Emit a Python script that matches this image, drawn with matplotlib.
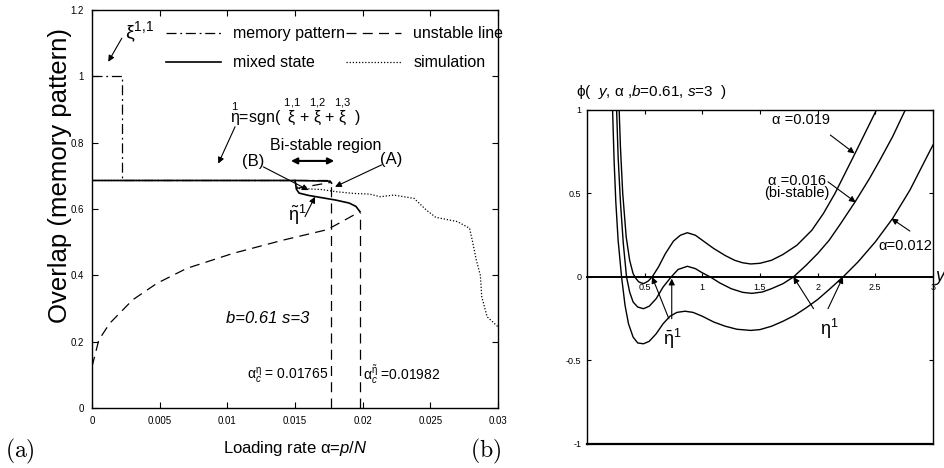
import matplotlib.pyplot as plt
from matplotlib import font_manager
from matplotlib.lines import Line2D

names = {f.name for f in font_manager.fontManager.ttflist}
narrow = 'Liberation Sans Narrow' if 'Liberation Sans Narrow' in names else 'Liberation Sans'
plt.rcParams['font.family'] = [narrow, 'DejaVu Sans']
plt.rcParams['mathtext.fontset'] = 'custom'
plt.rcParams['mathtext.rm'] = narrow
plt.rcParams['mathtext.it'] = narrow + ':italic'
plt.rcParams['mathtext.sf'] = narrow

# (a) overlap vs loading rate
xi_alpha = [0.0, 0.0022, 0.0022, 0.0176]
xi_overlap = [1.0, 1.0, 0.686, 0.686]

mixed_alpha = [0.0, 0.0150, 0.0176, 0.0177]
mixed_overlap = [0.686, 0.686, 0.684, 0.678]

tilde_alpha = [0.0150, 0.01505, 0.0151, 0.0153, 0.0160, 0.0170, 0.0180, 0.0190, 0.0195, 0.0198]
tilde_overlap = [0.686, 0.675, 0.660, 0.648, 0.641, 0.634, 0.627, 0.618, 0.608, 0.592]

unstable_alpha = [0.0, 0.0005, 0.0013, 0.003, 0.0048, 0.007, 0.0104, 0.0141, 0.0173, 0.0178, 0.0198]
unstable_overlap = [0.125, 0.205, 0.255, 0.326, 0.376, 0.421, 0.466, 0.506, 0.537, 0.547, 0.592]

mid_alpha = [0.0151, 0.0176]
mid_overlap = [0.662, 0.680]

sim_alpha = [0.0, 0.0150, 0.0152, 0.0169, 0.0181, 0.0193, 0.0205, 0.0213, 0.0223, 0.0238,
             0.0247, 0.0254, 0.0270, 0.0279, 0.0281, 0.0282, 0.0284, 0.0287, 0.0288, 0.0292, 0.0300]
sim_overlap = [0.686, 0.686, 0.662, 0.659, 0.652, 0.647, 0.645, 0.637, 0.642, 0.632,
               0.597, 0.575, 0.562, 0.542, 0.506, 0.486, 0.446, 0.400, 0.336, 0.275, 0.245]

alpha_c_eta = 0.01765
alpha_c_tilde = 0.01982
top_eta = 0.678
top_tilde = 0.592

# (b) phi(y) for three loading rates
y_012 = [0.222, 0.235, 0.25, 0.27, 0.30, 0.33, 0.36, 0.40, 0.44, 0.49, 0.54, 0.60, 0.66, 0.72,
         0.78, 0.85, 0.92, 1.0, 1.1, 1.2, 1.3, 1.42, 1.5, 1.6, 1.7, 1.8, 1.9, 2.0, 2.1, 2.22,
         2.35, 2.5, 2.65, 2.8, 2.97, 3.0]
phi_012 = [1.0, 0.70, 0.45, 0.22, 0.0, -0.17, -0.28, -0.36, -0.395, -0.40, -0.385, -0.34, -0.28,
           -0.235, -0.212, -0.205, -0.212, -0.235, -0.27, -0.295, -0.313, -0.32, -0.315, -0.295,
           -0.265, -0.23, -0.185, -0.135, -0.075, 0.0, 0.09, 0.21, 0.35, 0.52, 0.75, 0.79]

y_016 = [0.257, 0.27, 0.29, 0.315, 0.343, 0.37, 0.40, 0.44, 0.49, 0.54, 0.60, 0.66, 0.73, 0.79,
         0.87, 0.94, 1.0, 1.07, 1.15, 1.25, 1.35, 1.43, 1.52, 1.6, 1.7, 1.79, 1.9, 2.0, 2.1, 2.2,
         2.325, 2.45, 2.54, 2.65, 2.76]
phi_016 = [1.0, 0.72, 0.45, 0.2, 0.0, -0.09, -0.15, -0.18, -0.19, -0.175, -0.13, -0.06, 0.0,
           0.045, 0.064, 0.05, 0.025, 0.0, -0.035, -0.07, -0.092, -0.098, -0.09, -0.07, -0.04,
           0.0, 0.07, 0.14, 0.22, 0.32, 0.45, 0.59, 0.70, 0.84, 1.0]

y_019 = [0.279, 0.29, 0.31, 0.34, 0.37, 0.40, 0.42, 0.45, 0.49, 0.53, 0.565, 0.62, 0.68, 0.75,
         0.81, 0.87, 0.94, 1.0, 1.1, 1.2, 1.28, 1.35, 1.42, 1.5, 1.6, 1.7, 1.82, 1.95, 2.05,
         2.15, 2.23, 2.31, 2.41, 2.51]
phi_019 = [1.0, 0.78, 0.50, 0.24, 0.10, 0.02, -0.005, -0.03, -0.04, -0.025, 0.0, 0.06, 0.14,
           0.215, 0.25, 0.265, 0.25, 0.22, 0.17, 0.128, 0.10, 0.085, 0.078, 0.082, 0.10, 0.135,
           0.19, 0.28, 0.38, 0.50, 0.61, 0.72, 0.86, 1.0]

dashdot = (0, (8, 3, 1.5, 3))
dashed = (0, (8, 5))
dotted = (0, (1, 1.5))
lw = 0.9
arrow = dict(arrowstyle='-|>', lw=0.8, color='k', mutation_scale=9, shrinkA=0, shrinkB=0)

fig = plt.figure(figsize=(9.44, 4.68), dpi=100)

ax = fig.add_axes([0.0975, 0.1282, 0.43, 0.8504])
ax.plot(xi_alpha, xi_overlap, color='k', lw=lw, linestyle=dashdot)
ax.plot(mixed_alpha, mixed_overlap, color='k', lw=1.2)
ax.plot(tilde_alpha, tilde_overlap, color='k', lw=1.2)
ax.plot(unstable_alpha, unstable_overlap, color='k', lw=lw, linestyle=dashed)
ax.plot(mid_alpha, mid_overlap, color='k', lw=lw, linestyle=dashed)
ax.plot(sim_alpha, sim_overlap, color='k', lw=lw, linestyle=dotted)
ax.plot([alpha_c_eta, alpha_c_eta], [0, top_eta], color='k', lw=lw, linestyle=dashed)
ax.plot([alpha_c_tilde, alpha_c_tilde], [0, top_tilde], color='k', lw=lw, linestyle=dashed)

ax.set_xlim(0, 0.03)
ax.set_ylim(0, 1.2)
ax.set_xticks([0, 0.005, 0.01, 0.015, 0.02, 0.025, 0.03])
ax.set_xticklabels(['0', '0.005', '0.01', '0.015', '0.02', '0.025', '0.03'])
ax.set_yticks([0, 0.2, 0.4, 0.6, 0.8, 1.0, 1.2])
ax.set_yticklabels(['0', '0.2', '0.4', '0.6', '0.8', '1', '1.2'])
ax.tick_params(direction='in', length=4, width=0.8, labelsize=7, top=True, right=True, pad=6)
for s in ax.spines.values():
    s.set_linewidth(1.0)
ax.set_xlabel(r'Loading rate $\mathrm{\alpha}$=$p/N$', fontsize=12, labelpad=9)
ax.set_ylabel('Overlap (memory pattern)', fontsize=18.5)
ax.yaxis.set_label_coords(-0.05, 0.583)

handles = [Line2D([], [], color='k', lw=lw, linestyle=dashdot),
           Line2D([], [], color='k', lw=1.2),
           Line2D([], [], color='k', lw=lw, linestyle=dashed),
           Line2D([], [], color='k', lw=lw, linestyle=dotted)]
labels = ['memory pattern', 'mixed state', 'unstable line', 'simulation']
ax.legend(handles, labels, ncol=2, loc='upper left', bbox_to_anchor=(0.183, 0.959), frameon=False,
          fontsize=11.5, handlelength=3.4, handletextpad=0.8, columnspacing=0.05, labelspacing=0.88,
          borderpad=0, borderaxespad=0)

ax.text(0.0024, 1.115, r'$\mathrm{\xi}^{1,\!1}$', fontsize=14)
ax.annotate('', xy=(0.0012, 1.044), xytext=(0.0022, 1.115), arrowprops=arrow)
ax.text(0.0102, 0.862,
        r'$\overset{1}{\mathrm{\eta}}$=sgn( $\overset{1,\!1}{\mathrm{\xi}}$+$\overset{1,\!2}{\mathrm{\xi}}$'
        r'+$\overset{1,\!3}{\mathrm{\xi}}$ )', fontsize=11.5)
ax.annotate('', xy=(0.00933, 0.737), xytext=(0.01057, 0.848), arrowprops=arrow)
ax.text(0.01315, 0.778, 'Bi-stable region', fontsize=11.5)
ax.annotate('', xy=(0.0179, 0.745), xytext=(0.0147, 0.745),
            arrowprops=dict(arrowstyle='<|-|>', lw=1.5, color='k', mutation_scale=9, shrinkA=0, shrinkB=0))
ax.text(0.0119, 0.742, '(B)', fontsize=12, ha='center', va='center')
ax.annotate('', xy=(0.016, 0.657), xytext=(0.01266, 0.727), arrowprops=arrow)
ax.text(0.0221, 0.748, '(A)', fontsize=12, ha='center', va='center')
ax.annotate('', xy=(0.01796, 0.667), xytext=(0.0214, 0.733), arrowprops=arrow)
ax.text(0.01515, 0.582, r'$\tilde{\mathrm{\eta}}^1$', fontsize=13, ha='center', va='center')
ax.annotate('', xy=(0.01648, 0.637), xytext=(0.01574, 0.577), arrowprops=arrow)
ax.text(0.0130, 0.271, 'b=0.61 s=3', fontsize=12, style='italic', ha='center', va='center')
ax.text(0.01748, 0.085, r'$\mathrm{\alpha}_c^{\mathrm{\eta}}$ = 0.01765', fontsize=10, ha='right', va='baseline')
ax.text(0.0200, 0.085, r'$\mathrm{\alpha}_c^{\tilde{\mathrm{\eta}}}$ =0.01982', fontsize=10, ha='left', va='baseline')

fig.text(5 / 944, 2 / 468, r'$\mathrm{(a)}$', fontsize=17, math_fontfamily='cm', va='bottom')
fig.text(470 / 944, 2 / 468, r'$\mathrm{(b)}$', fontsize=17, math_fontfamily='cm', va='bottom')

# (b)
bx = fig.add_axes([0.6218, 0.0513, 0.3665, 0.7137])
bx.plot(y_019, phi_019, color='k', lw=1.0)
bx.plot(y_016, phi_016, color='k', lw=1.0)
bx.plot(y_012, phi_012, color='k', lw=1.0)
bx.set_xlim(0, 3)
bx.set_ylim(-1, 1)
bx.spines['bottom'].set_position(('data', 0))
bx.axhline(-1, color='k', lw=1.6, clip_on=False)
for s in bx.spines.values():
    s.set_linewidth(1.0)
bx.spines['bottom'].set_linewidth(1.4)
bx.set_xticks([0.5, 1, 1.5, 2, 2.5, 3])
bx.set_xticklabels(['0.5', '1', '1.5', '2', '2.5', '3'])
bx.set_yticks([-1, -0.5, 0, 0.5, 1])
bx.set_yticklabels(['-1', '-0.5', '0', '0.5', '1'])
bx.tick_params(direction='in', length=3, width=0.8, labelsize=6.5, top=True, right=True, pad=4)
bx.text(3.02, 0, 'y', fontsize=13, style='italic', va='center', clip_on=False)
fig.text(576 / 944, 1 - 96 / 468, r'$\mathrm{\phi}$(  $y$, $\mathrm{\alpha}$ ,$b$=0.61, $s$=3  )', fontsize=11)

bx.text(2.11, 0.94, 'α =0.019', fontsize=10.5, ha='right', va='center')
bx.annotate('', xy=(2.32, 0.74), xytext=(2.11, 0.85), arrowprops=arrow)
bx.text(2.07, 0.575, 'α =0.016', fontsize=10.5, ha='right', va='center')
bx.text(1.82, 0.50, '(bi-stable)', fontsize=10.5, ha='center', va='center')
bx.annotate('', xy=(2.33, 0.447), xytext=(2.09, 0.57), arrowprops=arrow)
bx.text(2.99, 0.186, 'α=0.012', fontsize=10.5, ha='right', va='center')
bx.annotate('', xy=(2.64, 0.35), xytext=(2.80, 0.275), arrowprops=arrow)
bx.text(2.1, -0.31, r'$\mathrm{\eta}^1$', fontsize=13, ha='center', va='center')
bx.annotate('', xy=(1.79, 0.0), xytext=(1.965, -0.19), arrowprops=arrow)
bx.annotate('', xy=(2.22, 0.0), xytext=(2.09, -0.19), arrowprops=arrow)
bx.text(0.74, -0.37, r'$\bar{\mathrm{\eta}}^1$', fontsize=13, ha='center', va='center')
bx.annotate('', xy=(0.565, 0.0), xytext=(0.71, -0.25), arrowprops=arrow)
bx.annotate('', xy=(0.735, -0.01), xytext=(0.735, -0.25), arrowprops=arrow)

plt.savefig('out.png', dpi=100)
